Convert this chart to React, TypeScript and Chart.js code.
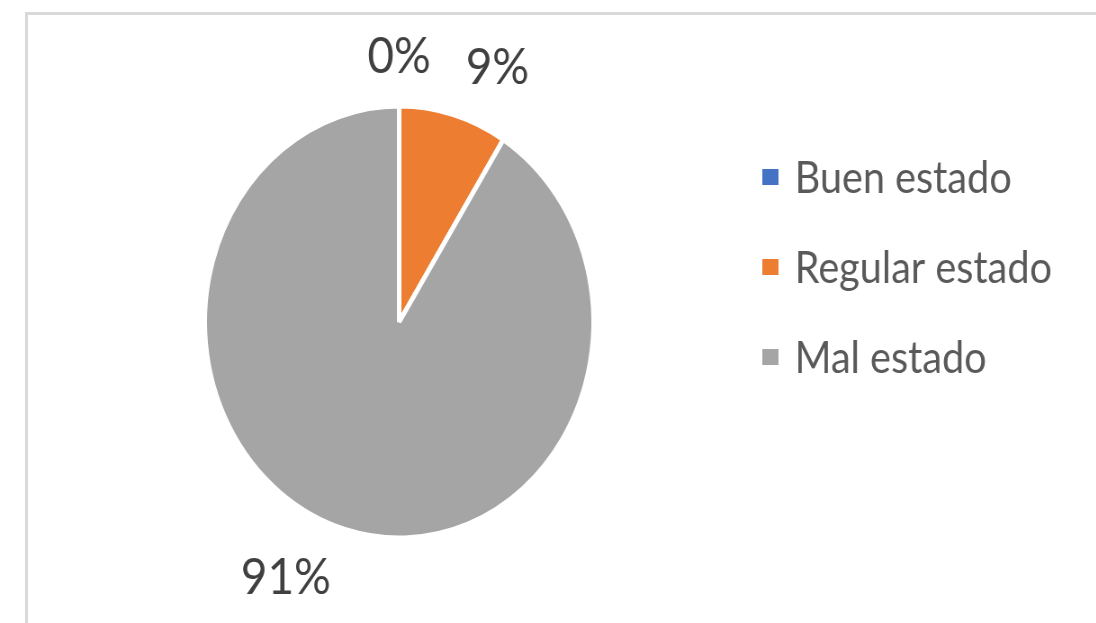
import React, { useEffect, useRef } from "react";
import { Chart, registerables } from "chart.js";

Chart.register(...registerables);

// ---- data ----
const categories = ["Buen estado", "Regular estado", "Mal estado"];
const values = [0, 9, 91];
const colors = ["#4472C4", "#ED7D31", "#A5A5A5"];
// small angular nudges (degrees) for the outside labels, like Excel's collision avoidance
const labelAngleNudge = [0, 7, 10];

// ---- layout (unscaled canvas coordinates; whole drawing is squeezed horizontally) ----
const SX = 0.9;
const W = Math.round(1096 / SX);
const H = 623;
const PIE_RADIUS = 216;
const LABEL_OFFSET = 30;
const LABEL_FONT = "51px Lato";
const LEGEND_FONT = "44px Lato";
const LEGEND_BOX_X = 847;
const LEGEND_BOX_W = 18;
const LEGEND_BOX_H = 16;
const LEGEND_TEXT_X = 883;
const LEGEND_Y0 = 177;
const LEGEND_GAP = 90;

export default function App() {
  const ref = useRef<HTMLCanvasElement>(null);

  useEffect(() => {
    document.body.style.margin = "0";
    document.body.style.overflow = "hidden";
    const canvas = ref.current!;
    const total = values.reduce((a, b) => a + b, 0);

    const labelPlugin = {
      id: "pctLabels",
      afterDatasetsDraw(chart: any) {
        const ctx = chart.ctx;
        const meta = chart.getDatasetMeta(0);
        ctx.save();
        ctx.font = LABEL_FONT;
        ctx.fillStyle = "#404040";
        ctx.textAlign = "center";
        ctx.textBaseline = "middle";
        meta.data.forEach((arc: any, i: number) => {
          const p = arc.getProps(["x", "y", "startAngle", "endAngle", "outerRadius"], true);
          const mid = (p.startAngle + p.endAngle) / 2 + (labelAngleNudge[i] * Math.PI) / 180;
          const text = Math.round((values[i] / total) * 100) + "%";
          const w = ctx.measureText(text).width;
          const h = 38;
          const dx = Math.cos(mid);
          const dy = Math.sin(mid);
          const ext = (Math.abs(dx) * w) / 2 + (Math.abs(dy) * h) / 2;
          const d = p.outerRadius + LABEL_OFFSET + ext;
          ctx.fillText(text, p.x + dx * d, p.y + dy * d);
        });
        ctx.restore();
      },
    };

    const legendPlugin = {
      id: "sideLegend",
      afterDraw(chart: any) {
        const ctx = chart.ctx;
        ctx.save();
        ctx.font = LEGEND_FONT;
        ctx.textAlign = "left";
        ctx.textBaseline = "middle";
        const ds = chart.data.datasets[0];
        (chart.data.labels as string[]).forEach((label, i) => {
          const cy = LEGEND_Y0 + i * LEGEND_GAP;
          ctx.fillStyle = ds.backgroundColor[i];
          ctx.fillRect(LEGEND_BOX_X, cy - LEGEND_BOX_H / 2, LEGEND_BOX_W, LEGEND_BOX_H);
          ctx.fillStyle = "#595959";
          ctx.fillText(label, LEGEND_TEXT_X, cy + 2);
        });
        ctx.restore();
      },
    };

    const chart = new Chart(canvas, {
      type: "pie",
      data: {
        labels: categories,
        datasets: [
          {
            data: values,
            backgroundColor: colors,
            borderColor: "#ffffff",
            borderWidth: 5,
            radius: PIE_RADIUS,
          } as any,
        ],
      },
      options: {
        responsive: false,
        animation: false,
        devicePixelRatio: 1,
        layout: { padding: { left: 100, right: 431, top: 40, bottom: 19 } },
        plugins: {
          legend: { display: false },
          tooltip: { enabled: false },
        },
      },
      plugins: [labelPlugin, legendPlugin],
    });
    return () => chart.destroy();
  }, []);

  return (
    <div style={{ position: "fixed", left: 0, top: 0, width: 1096, height: 623, overflow: "hidden", background: "#fff" }}>
      <div
        style={{
          position: "absolute",
          left: 25,
          top: 12,
          width: 1100,
          height: 640,
          border: "3px solid #d9d9d9",
          boxSizing: "border-box",
        }}
      />
      <div
        style={{
          position: "absolute",
          left: 0,
          top: 0,
          width: W,
          height: H,
          transform: `scaleX(${SX})`,
          transformOrigin: "0 0",
        }}
      >
        <canvas ref={ref} width={W} height={H} style={{ width: W, height: H, display: "block" }} />
      </div>
    </div>
  );
}
